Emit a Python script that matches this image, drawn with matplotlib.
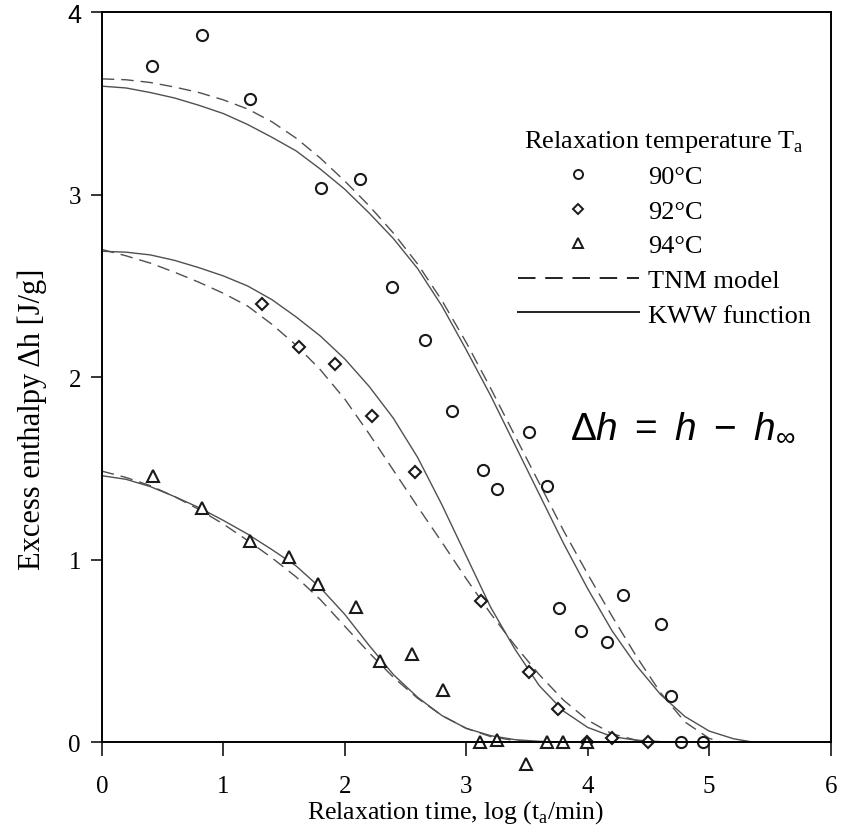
"""plot.py - excess enthalpy relaxation, TNM vs KWW -> out.png"""
import matplotlib
matplotlib.use("Agg")
import matplotlib.pyplot as plt
from matplotlib.lines import Line2D

x90 = [0.417, 0.823, 1.223, 1.802, 2.126, 2.392, 2.664, 2.886, 3.141, 3.251,
       3.517, 3.663, 3.767, 3.942, 4.156, 4.293, 4.603, 4.683, 4.765, 4.949]
y90 = [3.705, 3.876, 3.525, 3.037, 3.088, 2.495, 2.202, 1.813, 1.493, 1.387,
       1.698, 1.402, 0.733, 0.610, 0.550, 0.806, 0.647, 0.250, 0.0, 0.0]

x92 = [1.319, 1.624, 1.923, 2.222, 2.581, 3.124, 3.517, 3.753, 3.997, 4.203, 4.499]
y92 = [2.403, 2.166, 2.072, 1.789, 1.482, 0.775, 0.385, 0.181, 0.0, 0.022, 0.0]

x94 = [0.420, 0.823, 1.223, 1.539, 1.783, 2.093, 2.290, 2.551, 2.807,
       3.114, 3.251, 3.490, 3.663, 3.800, 3.997]
y94 = [1.457, 1.281, 1.104, 1.016, 0.866, 0.738, 0.446, 0.482, 0.285,
       0.0, 0.011, -0.121, 0.0, 0.0, 0.0]

# fitted curves
kww90_x = [0, 0.2, 0.4, 0.6, 0.8, 1.0, 1.2, 1.4, 1.6, 1.8, 2.0, 2.2, 2.4, 2.6, 2.8,
           3.0, 3.2, 3.4, 3.6, 3.8, 4.0, 4.2, 4.4, 4.6, 4.8, 5.0, 5.2, 5.33]
kww90_y = [3.595, 3.585, 3.56, 3.53, 3.49, 3.445, 3.385, 3.315, 3.24, 3.14, 3.03, 2.90,
           2.76, 2.595, 2.39, 2.15, 1.90, 1.63, 1.36, 1.09, 0.84, 0.61, 0.42, 0.26,
           0.14, 0.06, 0.018, 0.003]
tnm90_x = [0, 0.2, 0.4, 0.6, 0.8, 1.0, 1.2, 1.4, 1.6, 1.8, 2.0, 2.2, 2.4, 2.6, 2.8,
           3.0, 3.2, 3.4, 3.6, 3.8, 4.0, 4.2, 4.4, 4.6, 4.8, 5.0, 5.1]
tnm90_y = [3.635, 3.63, 3.615, 3.59, 3.56, 3.52, 3.47, 3.40, 3.31, 3.20, 3.075, 2.94,
           2.79, 2.62, 2.42, 2.19, 1.94, 1.68, 1.42, 1.16, 0.92, 0.69, 0.47, 0.27,
           0.11, 0.02, 0.0]

kww92_x = [0, 0.2, 0.4, 0.6, 0.8, 1.0, 1.2, 1.4, 1.6, 1.8, 2.0, 2.2, 2.4, 2.6, 2.8,
           3.0, 3.2, 3.4, 3.6, 3.8, 4.0, 4.2, 4.4, 4.6, 4.75]
kww92_y = [2.69, 2.685, 2.67, 2.64, 2.60, 2.555, 2.50, 2.425, 2.33, 2.225, 2.10, 1.95,
           1.775, 1.56, 1.30, 1.02, 0.74, 0.51, 0.31, 0.17, 0.08, 0.03, 0.01, 0.002, 0.0]
tnm92_x = [0, 0.2, 0.4, 0.6, 0.8, 1.0, 1.2, 1.4, 1.6, 1.8, 2.0, 2.2, 2.4, 2.6, 2.8,
           3.0, 3.2, 3.4, 3.6, 3.8, 4.0, 4.2, 4.4, 4.55]
tnm92_y = [2.70, 2.665, 2.625, 2.575, 2.52, 2.46, 2.39, 2.29, 2.175, 2.04, 1.88, 1.69,
           1.49, 1.29, 1.095, 0.895, 0.705, 0.53, 0.37, 0.23, 0.12, 0.045, 0.01, 0.0]

kww94_x = [0, 0.2, 0.4, 0.6, 0.8, 1.0, 1.2, 1.4, 1.6, 1.8, 2.0, 2.2, 2.4, 2.6, 2.8,
           3.0, 3.2, 3.4, 3.6, 3.8]
kww94_y = [1.46, 1.44, 1.40, 1.345, 1.285, 1.215, 1.14, 1.055, 0.965, 0.845, 0.70, 0.53,
           0.37, 0.245, 0.145, 0.075, 0.035, 0.013, 0.004, 0.0]
tnm94_x = [0, 0.2, 0.4, 0.6, 0.8, 1.0, 1.2, 1.4, 1.6, 1.8, 2.0, 2.2, 2.4, 2.6, 2.8,
           3.0, 3.2, 3.4, 3.6]
tnm94_y = [1.485, 1.45, 1.405, 1.345, 1.275, 1.195, 1.105, 1.01, 0.905, 0.78, 0.635, 0.49,
           0.355, 0.24, 0.145, 0.075, 0.03, 0.008, 0.0]

xticks = [0, 1, 2, 3, 4, 5, 6]
yticks = [0, 1, 2, 3, 4]


def main():
    plt.rcParams["font.family"] = ["Liberation Serif", "DejaVu Serif"]
    plt.rcParams["mathtext.fontset"] = "custom"
    plt.rcParams["mathtext.rm"] = "Liberation Sans"
    plt.rcParams["mathtext.it"] = "Liberation Sans:italic"

    fig = plt.figure(figsize=(8.48, 8.29), dpi=100)
    ax = fig.add_axes([0.12, 0.1037, 0.8596, 0.8803])

    line_c = "#505050"
    mk_c = "#1a1a1a"
    dash = (9, 5)

    for cx, cy in [(kww90_x, kww90_y), (kww92_x, kww92_y), (kww94_x, kww94_y)]:
        ax.plot(cx, cy, "-", color=line_c, lw=1.0)
    for cx, cy in [(tnm90_x, tnm90_y), (tnm92_x, tnm92_y), (tnm94_x, tnm94_y)]:
        ax.plot(cx, cy, color=line_c, lw=1.0, dashes=dash)

    ax.plot(x90, y90, "o", ms=8, mfc="white", mec=mk_c, mew=1.5, ls="none", clip_on=False)
    ax.plot(x92, y92, "D", ms=6, mfc="white", mec=mk_c, mew=1.5, ls="none", clip_on=False)
    ax.plot(x94, y94, "^", ms=8, mfc="white", mec=mk_c, mew=1.5, ls="none", clip_on=False)

    ax.set_xlim(0, 6)
    ax.set_ylim(0, 4)
    ax.set_xticks(xticks)
    ax.set_yticks(yticks)
    ax.tick_params(axis="x", direction="out", length=10, width=1.1, pad=14, labelsize=18)
    ax.tick_params(axis="y", direction="out", length=8, width=1.1, pad=7, labelsize=18)
    ax.get_yticklabels()[-1].set_fontfamily("Liberation Sans")
    for sp in ax.spines.values():
        sp.set_linewidth(1.4)

    ax.set_xlabel(r"Relaxation time, log (t$_\mathregular{a}$/min)", fontsize=18.5)
    ax.xaxis.set_label_coords(0.485, -0.077)
    ax.set_ylabel("Excess enthalpy \u0394h [J/g]", fontsize=22)
    ax.yaxis.set_label_coords(-0.075, 0.443)

    handles = [
        Line2D([], [], marker="o", ls="none", ms=6.5, mfc="white", mec=mk_c, mew=1.4),
        Line2D([], [], marker="D", ls="none", ms=5, mfc="white", mec=mk_c, mew=1.4),
        Line2D([], [], marker="^", ls="none", ms=6.5, mfc="white", mec=mk_c, mew=1.4),
        Line2D([], [], color="#222222", lw=1.4, dashes=dash),
        Line2D([], [], color="#222222", lw=1.4),
    ]
    labels = ["90\u00b0C", "92\u00b0C", "94\u00b0C", "TNM model", "KWW function"]
    ax.legend(handles, labels, loc="upper left", bbox_to_anchor=(0.545, 0.867),
              frameon=False, fontsize=19, title=r"Relaxation temperature T$_\mathregular{a}$",
              title_fontsize=19, handlelength=4.6, handletextpad=0.35,
              labelspacing=0.42, borderpad=0.2, numpoints=1)

    ax.text(3.854, 1.672, r"$\mathit{\Delta}h\ =\ h\ -\ h_{\infty}$", fontsize=28,
            va="baseline", ha="left")

    fig.savefig("out.png", dpi=100)


if __name__ == "__main__":
    main()
